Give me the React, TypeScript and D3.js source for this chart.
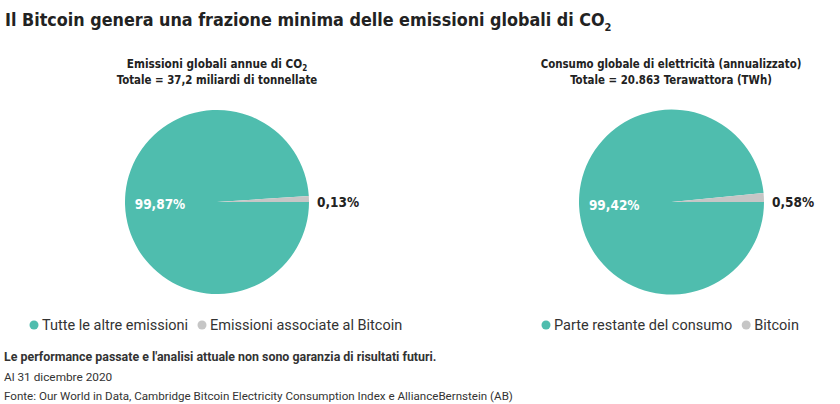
import React from "react";
import * as d3 from "d3";

const TITLE = "Il Bitcoin genera una frazione minima delle emissioni globali di CO";
const chartTitles = [
  ["Emissioni globali annue di CO", "Totale = 37,2 miliardi di tonnellate"],
  ["Consumo globale di elettricità (annualizzato)", "Totale = 20.863 Terawattora (TWh)"],
];
const categoriesLeft = ["Tutte le altre emissioni", "Emissioni associate al Bitcoin"];
const categoriesRight = ["Parte restante del consumo", "Bitcoin"];
const labelsLeft = ["99,87%", "0,13%"];
const labelsRight = ["99,42%", "0,58%"];
// slice shares as drawn in the picture
const sharesLeft = [98.97, 1.03];
const sharesRight = [98.45, 1.55];
const colors = ["#4fbdae", "#c6c6c6"];

const W = 840, H = 404;
const condensed = "'DejaVu Sans Condensed', 'DejaVu Sans', sans-serif";
const plain = "Roboto, 'Noto Sans', sans-serif";
const LEGEND_SIZE = 14.5;

let measureCtx: CanvasRenderingContext2D | null = null;
function textWidth(s: string, font: string): number {
  if (!measureCtx) {
    const c = document.createElement("canvas");
    measureCtx = c.getContext("2d");
  }
  if (!measureCtx) return s.length * 6.5;
  measureCtx.font = font;
  return measureCtx.measureText(s).width;
}

function Pie({ cx, cy, r, shares, labels }: { cx: number; cy: number; r: number; shares: number[]; labels: string[] }) {
  const pie = d3.pie<number>().sort(null).value((d) => d)
    .startAngle(Math.PI / 2).endAngle(Math.PI / 2 + 2 * Math.PI);
  const arcs = pie(shares);
  const arc = d3.arc<d3.PieArcDatum<number>>().innerRadius(0).outerRadius(r);
  const labelArc = d3.arc<d3.PieArcDatum<number>>().innerRadius(r * 0.62).outerRadius(r * 0.62);
  const [lx, ly] = labelArc.centroid(arcs[0]);
  return (
    <g transform={`translate(${cx},${cy})`}>
      {arcs.map((a, i) => (
        <path key={i} d={arc(a) || ""} fill={colors[i]} />
      ))}
      <text x={lx} y={ly} dy="0.35em" textAnchor="middle" fill="#fff" fontFamily={condensed} fontWeight="bold" fontSize={13.5}>
        {labels[0]}
      </text>
      <text x={r + 8} y={0} dy="0.35em" textAnchor="start" fill="#222" fontFamily={condensed} fontWeight="bold" fontSize={13.5}>
        {labels[1]}
      </text>
    </g>
  );
}

function Legend({ x, y, cats }: { x: number; y: number; cats: string[] }) {
  let cx = x;
  const items: React.ReactNode[] = [];
  cats.forEach((c, i) => {
    items.push(<circle key={"c" + i} cx={cx + 4} cy={y} r={4.5} fill={colors[i]} />);
    items.push(
      <text key={"t" + i} x={cx + 12} y={y} dy="0.35em" fill="#333" fontFamily={plain} fontSize={LEGEND_SIZE}>
        {c}
      </text>
    );
    cx += 12 + textWidth(c, `${LEGEND_SIZE}px Roboto`) + 10;
  });
  return <g>{items}</g>;
}

export default function App() {
  return (
    <div style={{ position: "absolute", left: 0, top: 0 }}>
      <svg width={W} height={H} viewBox={`0 0 ${W} ${H}`} style={{ display: "block", background: "#fff" }}>
        <text x={5} y={26} fontFamily={condensed} fontWeight="bold" fontSize={17.8} fill="#222">
          {TITLE}
          <tspan dy={5} fontSize={11}>2</tspan>
        </text>

        <text x={217} y={68} textAnchor="middle" fontFamily={condensed} fontWeight="bold" fontSize={11.7} fill="#222">
          {chartTitles[0][0]}
          <tspan dy={3} fontSize={8}>2</tspan>
        </text>
        <text x={217} y={84} textAnchor="middle" fontFamily={condensed} fontWeight="bold" fontSize={11.4} fill="#222">
          {chartTitles[0][1]}
        </text>
        <text x={671} y={68} textAnchor="middle" fontFamily={condensed} fontWeight="bold" fontSize={11.4} fill="#222">
          {chartTitles[1][0]}
        </text>
        <text x={671} y={84} textAnchor="middle" fontFamily={condensed} fontWeight="bold" fontSize={11.4} fill="#222">
          {chartTitles[1][1]}
        </text>

        <Pie cx={217} cy={202} r={92} shares={sharesLeft} labels={labelsLeft} />
        <Pie cx={671.5} cy={202} r={92.5} shares={sharesRight} labels={labelsRight} />

        <Legend x={30} y={325} cats={categoriesLeft} />
        <Legend x={542} y={325} cats={categoriesRight} />

        <text x={4} y={361} fontFamily={plain} fontWeight="bold" fontSize={12.4} fill="#333">
          Le performance passate e l'analisi attuale non sono garanzia di risultati futuri.
        </text>
        <text x={4} y={381} fontFamily={plain} fontSize={11.8} fill="#333">Al 31 dicembre 2020</text>
        <text x={4} y={400} fontFamily={plain} fontSize={11.6} fill="#333">
          Fonte: Our World in Data, Cambridge Bitcoin Electricity Consumption Index e AllianceBernstein (AB)
        </text>
      </svg>
    </div>
  );
}
